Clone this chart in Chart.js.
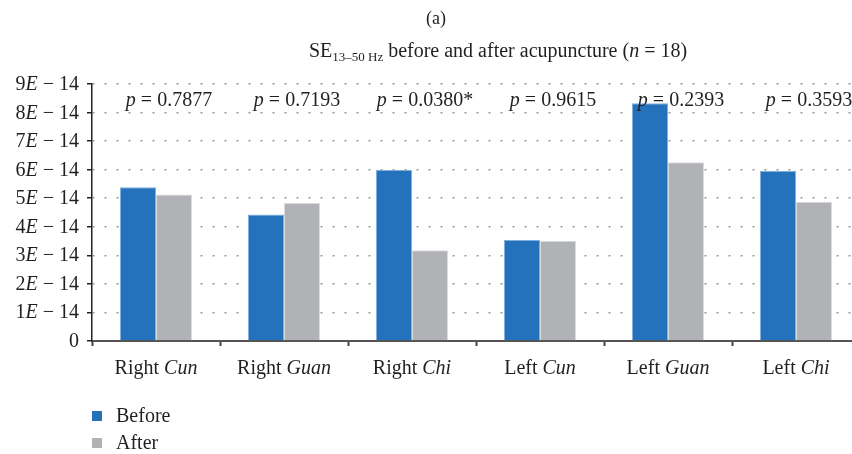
<html>
<head>
<script src="https://cdn.jsdelivr.net/npm/chart.js"></script>
<title>SE 13-50 Hz</title>
<style>
  body { margin: 0; overflow: hidden; background: #fff; }
  #wrap { width: 870px; height: 454px; }
</style>
</head>
<body>
<div id="wrap"><canvas id="myChart"></canvas></div>
<script>
// data
const sides = ['Right', 'Right', 'Right', 'Left', 'Left', 'Left'];
const points = ['Cun', 'Guan', 'Chi', 'Cun', 'Guan', 'Chi'];
const before = [5.38e-14, 4.43e-14, 5.99e-14, 3.54e-14, 8.33e-14, 5.96e-14];
const after = [5.13e-14, 4.83e-14, 3.18e-14, 3.51e-14, 6.26e-14, 4.88e-14];
const pValues = ['0.7877', '0.7193', '0.0380*', '0.9615', '0.2393', '0.3593'];
const yTicks = [0, 1e-14, 2e-14, 3e-14, 4e-14, 5e-14, 6e-14, 7e-14, 8e-14, 9e-14];
const yTickLabels = ['0', '1E − 14', '2E − 14', '3E − 14', '4E − 14', '5E − 14', '6E − 14', '7E − 14', '8E − 14', '9E − 14'];

const labels = sides.map((s, i) => s + ' ' + points[i]);

const FONT = '"Liberation Serif", "DejaVu Serif", serif';
const TXT = '#231f20';
const reg = (sz) => sz + 'px ' + FONT;
const ita = (sz) => 'italic ' + sz + 'px ' + FONT;

// draw a row of text runs with mixed fonts
function drawRuns(ctx, runs, x, y, align) {
  let total = 0;
  runs.forEach(r => { ctx.font = r.font; r.w = ctx.measureText(r.text).width; total += r.w; });
  let cx = x;
  if (align === 'center') cx = x - total / 2;
  if (align === 'right') cx = x - total;
  ctx.textAlign = 'left';
  ctx.textBaseline = 'alphabetic';
  runs.forEach(r => {
    ctx.font = r.font;
    ctx.fillText(r.text, cx, y + (r.dy || 0));
    cx += r.w;
  });
}

const textPlugin = {
  id: 'textPlugin',
  afterDraw(chart) {
    const ctx = chart.ctx;
    const xs = chart.scales.x, ys = chart.scales.y;
    ctx.save();
    ctx.fillStyle = TXT;

    // y tick labels
    yTicks.forEach((v, i) => {
      const y = ys.getPixelForValue(v) + 6;
      const lab = yTickLabels[i];
      const k = lab.indexOf('E');
      let runs;
      if (k < 0) runs = [{text: lab, font: reg(20)}];
      else runs = [{text: lab.slice(0, k), font: reg(20)}, {text: 'E', font: ita(20)}, {text: lab.slice(k + 1), font: reg(20)}];
      drawRuns(ctx, runs, ys.right - 13, y, 'right');
    });

    // x category labels
    labels.forEach((l, i) => {
      const x = xs.getPixelForValue(i);
      drawRuns(ctx, [{text: sides[i] + ' ', font: reg(20)}, {text: points[i], font: ita(20)}], x, 374, 'center');
    });

    // p values
    pValues.forEach((p, i) => {
      const x = xs.getPixelForValue(i) + 13;
      drawRuns(ctx, [{text: 'p', font: ita(20)}, {text: ' = ' + p, font: reg(20)}], x, 106, 'center');
    });

    // titles
    drawRuns(ctx, [{text: '(a)', font: reg(18)}], 436, 24, 'center');
    drawRuns(ctx, [
      {text: 'SE', font: reg(20)},
      {text: '13–50 Hz', font: reg(13), dy: 4},
      {text: ' before and after acupuncture (', font: reg(20)},
      {text: 'n', font: ita(20)},
      {text: ' = 18)', font: reg(20)}
    ], 498, 57, 'center');

    // legend, stacked
    chart.data.datasets.forEach((ds, i) => {
      const y = 411 + i * 27;
      ctx.fillStyle = ds.backgroundColor;
      ctx.fillRect(92, y, 10, 10);
      ctx.fillStyle = TXT;
      drawRuns(ctx, [{text: ds.label, font: reg(20)}], 116, y + 11, 'left');
    });
    ctx.restore();
  }
};

const data = {
  labels: labels,
  datasets: [
    {label: 'Before', data: before, backgroundColor: '#2372bb', borderColor: '#7fb0de', borderWidth: 1},
    {label: 'After', data: after, backgroundColor: '#b1b2b5', borderColor: '#dcdcde', borderWidth: 1}
  ]
};

const config = {
  type: 'bar',
  data: data,
  options: {
    responsive: true,
    maintainAspectRatio: false,
    animation: false,
    categoryPercentage: 0.5625,
    barPercentage: 1.0,
    layout: {padding: {left: 0, top: 84, right: 10, bottom: 83}},
    plugins: {legend: {display: false}, tooltip: {enabled: false}},
    scales: {
      x: {
        ticks: {display: false},
        grid: {display: true, drawOnChartArea: false, drawTicks: true, tickLength: 5, tickColor: '#444', tickWidth: 2, offset: true},
        border: {color: '#555', width: 2},
        afterFit: (s) => { s.height = 30; }
      },
      y: {
        min: 0,
        max: 9e-14,
        ticks: {display: false},
        afterBuildTicks: (s) => { s.ticks = yTicks.map(v => ({value: v})); },
        grid: {color: '#999', lineWidth: 1.5, tickLength: 5, tickColor: '#222', tickWidth: 1.5, tickBorderDash: []},
        border: {color: '#222', width: 1.5, dash: [2, 10]},
        afterFit: (s) => { s.width = 92; }
      }
    }
  },
  plugins: [textPlugin]
};

const myChart = new Chart(document.getElementById('myChart'), config);
</script>
</body>
</html>
